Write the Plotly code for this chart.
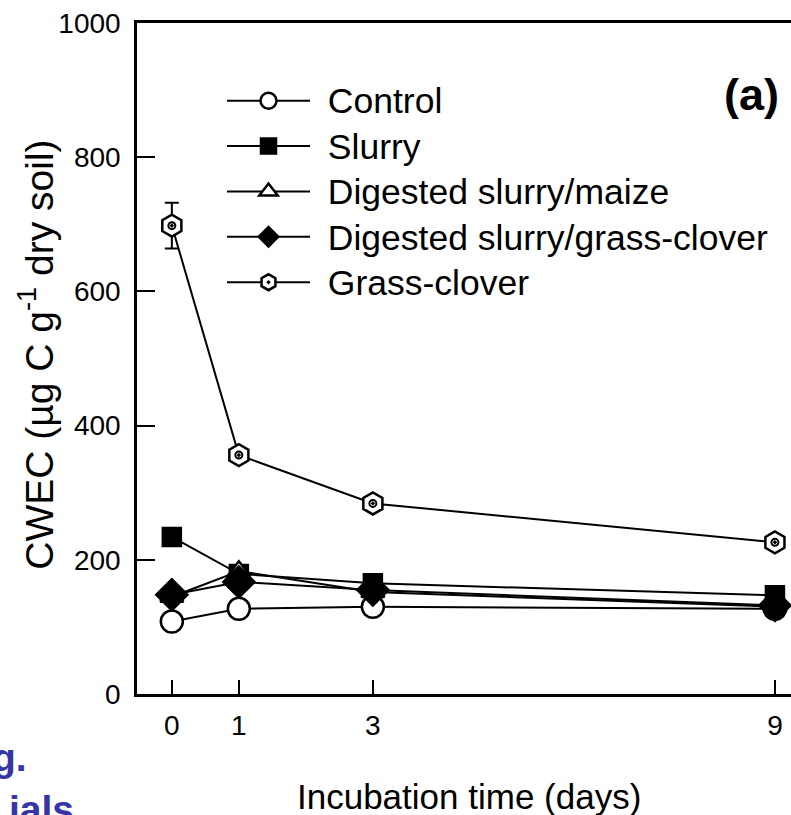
import plotly.graph_objects as go

days = [0, 1, 3, 9]
control = [108, 127, 130, 127]
slurry = [234, 179, 165, 147]
dig_maize = [145, 183, 152, 130]
dig_grass = [148, 167, 155, 132]
grass_clover = [698, 356, 284, 226]
grass_clover_err = [34, 0, 0, 0]

x_ticks = [0, 1, 3, 9]
y_ticks = [0, 200, 400, 600, 800, 1000]

FONT = "Liberation Sans, Arial, sans-serif"

series = [
    ("Control", control, dict(symbol="circle", size=22, color="white", line=dict(color="black", width=2.5)), None),
    ("Slurry", slurry, dict(symbol="square", size=19, color="black", line=dict(color="black", width=1.5)), None),
    ("Digested slurry/maize", dig_maize, dict(symbol="triangle-up", size=20, color="white", line=dict(color="black", width=2.5)), None),
    ("Digested slurry/grass-clover", dig_grass, dict(symbol="diamond", size=25, color="black", line=dict(color="black", width=1.5)), None),
    ("Grass-clover", grass_clover, dict(symbol="hexagon-dot", size=22, color="white", line=dict(color="black", width=2.5)), grass_clover_err),
]

fig = go.Figure()
for i, (name, vals, marker, err) in enumerate(series):
    kw = {}
    if err is not None:
        kw["error_y"] = dict(type="data", array=err, visible=True, color="black", thickness=2, width=7)
    fig.add_trace(go.Scatter(
        x=days, y=vals,
        name='<span style="font-size:35.5px">\u00a0\u200a' + name + '</span>',
        mode="lines+markers",
        line=dict(color="black", width=2), marker=marker, **kw))

# inner ring of the grass-clover hexagon markers
fig.add_trace(go.Scatter(
    x=days, y=grass_clover, mode="markers", showlegend=False, hoverinfo="skip",
    marker=dict(symbol="circle-open", size=7, color="black", line=dict(color="black", width=2))))

fig.update_layout(
    width=791, height=815,
    margin=dict(l=137, r=0, t=23, b=121),
    paper_bgcolor="white", plot_bgcolor="white",
    font=dict(family=FONT, color="black"),
    showlegend=True,
    legend=dict(x=(222 - 137) / 654, y=0.9255, xanchor="left", yanchor="top",
                font=dict(size=32.6, family=FONT, color="black"),
                bgcolor="rgba(0,0,0,0)", tracegroupgap=0, itemwidth=83),
    xaxis=dict(range=[-0.52, 9.24], tickvals=x_ticks, ticktext=[str(t) for t in x_ticks],
               ticks="inside", ticklen=14, tickwidth=2, tickcolor="black",
               showline=True, linewidth=2.5, linecolor="black", mirror=True,
               showgrid=False, zeroline=False, tickfont=dict(size=28),
               ticklabelstandoff=5),
    yaxis=dict(range=[0, 1000], tickvals=y_ticks, ticktext=[str(t) for t in y_ticks],
               ticks="inside", ticklen=18, tickwidth=2, tickcolor="black",
               showline=True, linewidth=2.5, linecolor="black",
               showgrid=False, zeroline=False, tickfont=dict(size=28),
               ticklabelstandoff=8),
    annotations=[
        dict(text="CWEC (µg C g<sup>-1</sup> dry soil)", textangle=-90,
             xref="paper", yref="paper", x=-0.155, y=0.505, xanchor="center", yanchor="middle",
             showarrow=False, font=dict(size=39)),
        dict(text="Incubation time (days)", xref="paper", yref="paper",
             x=0.508, y=-0.153, xanchor="center", yanchor="middle",
             showarrow=False, font=dict(size=35)),
        dict(text="<b>(a)</b>", xref="paper", yref="paper", x=0.985, y=0.893,
             xanchor="right", yanchor="middle", showarrow=False, font=dict(size=45)),
        dict(text="<b>g.</b>", xref="paper", yref="paper", x=-0.165, y=-0.095,
             xanchor="right", yanchor="middle", showarrow=False,
             font=dict(size=39, color="#3535a8")),
        dict(text="<b>ials</b>", xref="paper", yref="paper", x=-0.093, y=-0.172,
             xanchor="right", yanchor="middle", showarrow=False,
             font=dict(size=39, color="#3535a8")),
    ],
)

fig.write_html("out.html")
